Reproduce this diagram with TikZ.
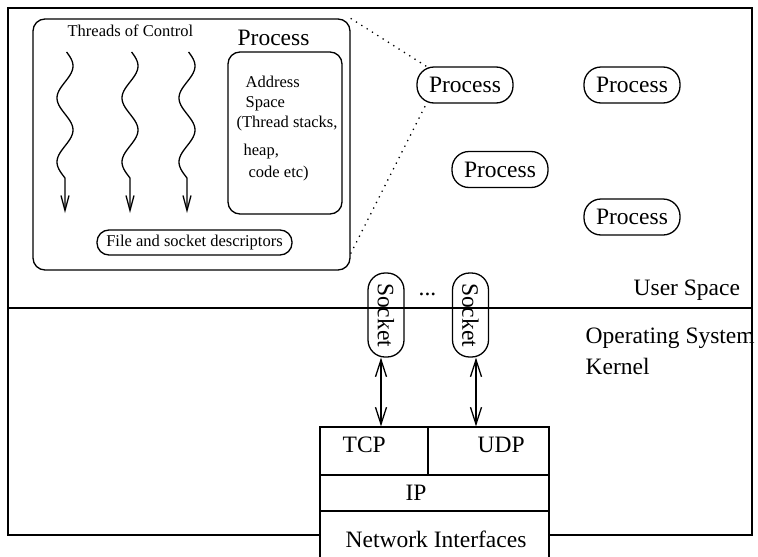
\documentclass[tikz,border=0pt]{standalone}
\usepackage{fontspec}
\setmainfont{Liberation Serif}
\usetikzlibrary{arrows.meta}

\newcommand{\bigfont}{\fontsize{23.5}{28}\selectfont}
\newcommand{\smallfont}{\fontsize{16.5}{20}\selectfont}

\begin{document}
\begin{tikzpicture}[x=1pt,y=-1pt,line width=1.3pt,
	pill/.style={draw,rounded corners=17pt,minimum width=96pt,minimum height=36pt,inner sep=0pt,font=\bigfont},
	roundbox/.style={draw,rounded corners=12pt,inner sep=0pt},
	cell/.style={draw,fill=white,inner sep=0pt},
	txt/.style={anchor=base west,inner sep=0pt},
	dotline/.style={dash pattern=on 1.3pt off 5pt},
	thread/.style={-{Straight Barb[length=15pt,width=8pt]}},
	dbl/.style={{Straight Barb[length=17pt,width=11pt]}-{Straight Barb[length=17pt,width=11pt]}}]
	\useasboundingbox (0,0) rectangle (758,557);
	
	% user space / kernel frame
	\draw (8,8) rectangle (752,535);
	\draw (8,308) -- (752,308);
	
	% one process, close up
	\node[roundbox,minimum width=317pt,minimum height=251pt] (proc) at (191.5,144.5) {};
	\node[roundbox,minimum width=114pt,minimum height=162pt] (addr) at (285,133) {};
	\node[txt,font=\smallfont] (thr) at (67,36) {Threads of Control};
	\node[txt,font=\bigfont] (ptitle) at (237,45) {Process};
	\node[txt,font=\smallfont] (a1) at (245,87) {Address};
	\node[txt,font=\smallfont] (a2) at (245,107) {Space};
	\node[txt,font=\smallfont] (a3) at (236,127) {(Thread stacks,};
	\node[txt,font=\smallfont] (a4) at (243,155) {heap,};
	\node[txt,font=\smallfont] (a5) at (248,177) {code etc)};
	\node[pill,font=\smallfont,minimum width=195pt,minimum height=25pt,rounded corners=12pt] (fsd) at (194.5,242.5) {File and socket descriptors};
	\foreach \tx in {65,130,187}
		\draw[thread] plot[smooth,variable=\t,samples=60,domain=52:178] ({\tx+8*sin(5.625*(\t-50))},\t) -- (\tx,213);
	
	% the other processes
	\node[pill] (p1) at (465,85) {Process};
	\node[pill] (p2) at (632,85) {Process};
	\node[pill] (p3) at (500,169.5) {Process};
	\node[pill] (p4) at (632,217) {Process};
	\draw[dotline] (proc.north east) -- ([xshift=10pt]p1.north west);
	\draw[dotline] ([yshift=17pt]proc.south east) -- ([xshift=10pt]p1.south west);
	
	\node[txt,font=\bigfont] (us) at (633,295) {User Space};
	\node[txt,font=\bigfont] (os) at (585,343) {Operating System};
	\node[txt,font=\bigfont] (kern) at (585,374) {Kernel};
	
	% sockets
	\node[pill,rotate=-90,minimum width=84pt,minimum height=36pt] (s1) at (386,315) {Socket};
	\node[pill,rotate=-90,minimum width=84pt,minimum height=36pt] (s2) at (470.5,315) {Socket};
	\node[txt,font=\bigfont] (dots) at (418,295) {...};
	
	% protocol stack
	\node[cell,minimum width=108pt,minimum height=48pt] (tcp) at (374,451) {};
	\node[cell,minimum width=121pt,minimum height=48pt] (udp) at (488.5,451) {};
	\node[cell,minimum width=229pt,minimum height=36pt] (ip) at (434.5,493) {};
	\node[cell,minimum width=229pt,minimum height=60pt] (net) at (434.5,541) {};
	\node[txt,font=\bigfont] (tcpl) at (342,452) {TCP};
	\node[txt,font=\bigfont] (udpl) at (477,452) {UDP};
	\node[txt,font=\bigfont] (ipl) at (405,500) {IP};
	\node[txt,font=\bigfont] (netl) at (345,547) {Network Interfaces};
	
	\draw[dbl] ([xshift=-5pt]s1.east) -- ([xshift=-5pt]s1.east |- tcp.north);
	\draw[dbl] ([xshift=5.5pt]s2.east) -- ([xshift=5.5pt]s2.east |- udp.north);
\end{tikzpicture}
\end{document}
